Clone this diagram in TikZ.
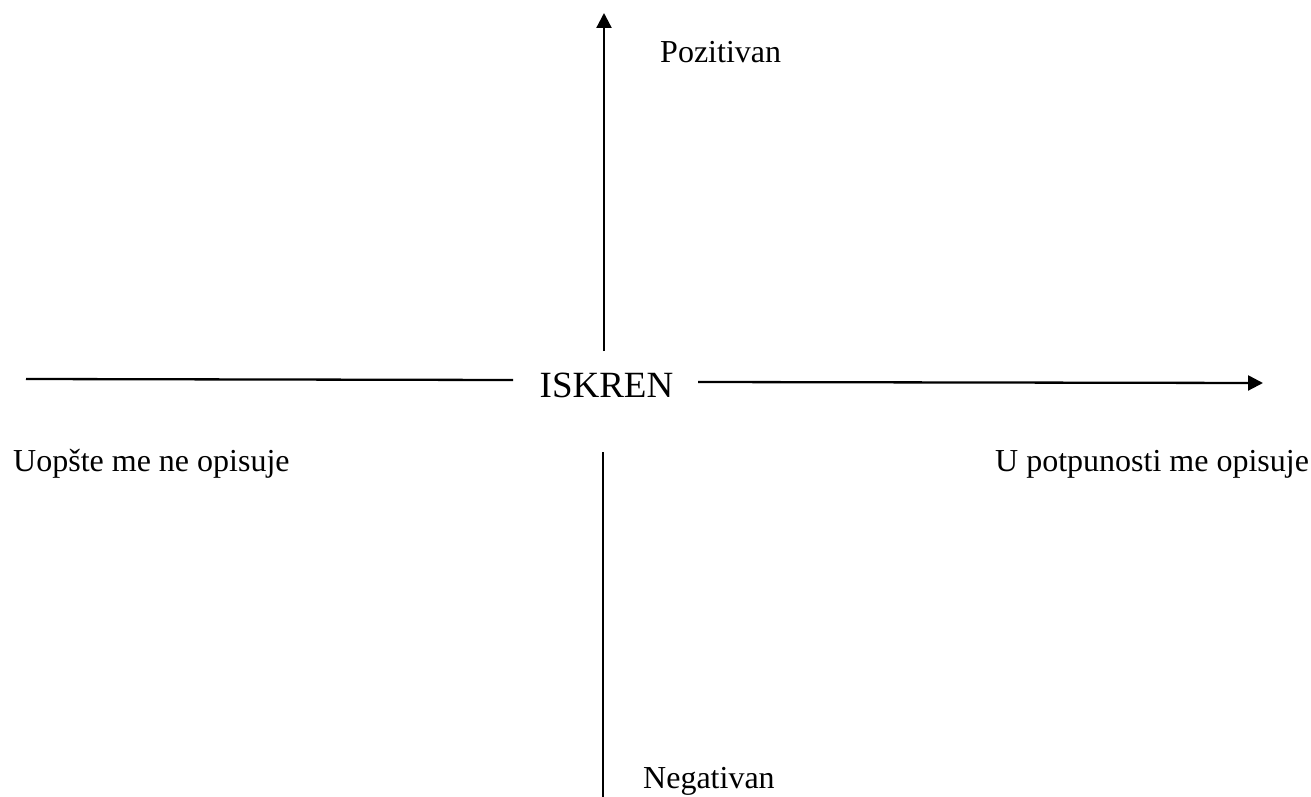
\documentclass[tikz,border=0pt]{standalone}
\usepackage{fontspec}
\setmainfont{Liberation Serif}
\usetikzlibrary{arrows.meta}
\tikzset{
  ax/.style   = {line width=2.3pt},
  axar/.style = {line width=2.3pt, -{Triangle[length=15pt, width=15pt]}},
  lbl/.style  = {font=\fontsize{32}{38}\selectfont, inner sep=0pt, anchor=base west},
  ctr/.style  = {font=\fontsize{37}{44}\selectfont, inner sep=0pt, anchor=base},
}

\begin{document}
\begin{tikzpicture}[x=1pt, y=-1pt]
  \useasboundingbox (0,0) rectangle (1311,797);
  \node[ctr] (iskren) at (606.5,397) {ISKREN};
  % axis ends
  \coordinate (lftout) at (26,379);
  \coordinate (lftin)  at (513,380);
  \coordinate (rgtin)  at (698,382);
  \coordinate (rgtout) at (1263,383);
  \coordinate (topin)  at (604,351);
  \coordinate (topout) at (604,13);
  \coordinate (botin)  at (603,452);
  \coordinate (botout) at (603,797);
  \draw[ax]   (lftout) -- (lftin);
  \draw[axar] (rgtin) -- (rgtout);
  \draw[axar] (topin) -- (topout);
  \draw[ax]   (botin) -- (botout);
  \node[lbl] (poz) at (660,63)  {Pozitivan};
  \node[lbl] (neg) at (643,788) {Negativan};
  \node[lbl] (uop) at (13,471)  {Uopšte me ne opisuje};
  \node[lbl] (upo) at (995,471) {U potpunosti me opisuje};
\end{tikzpicture}
\end{document}
